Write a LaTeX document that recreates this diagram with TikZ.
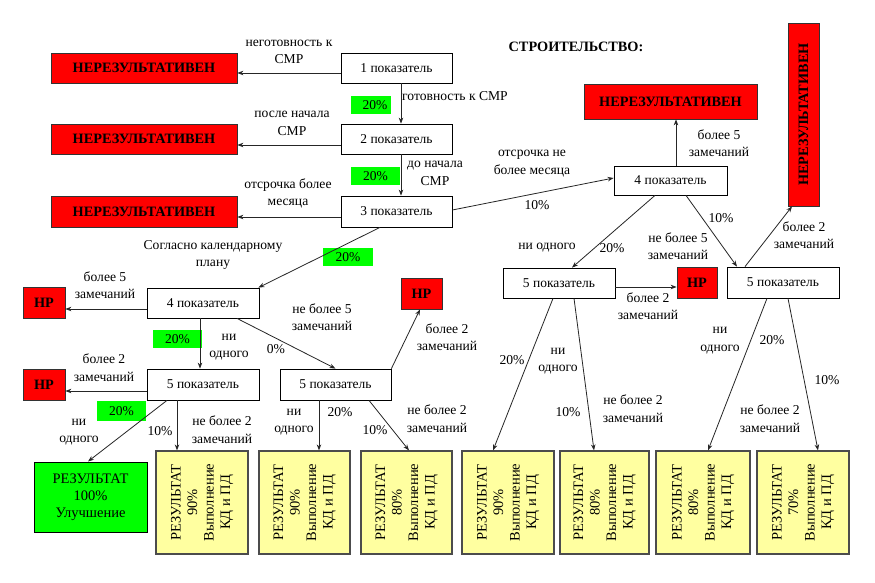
\documentclass[tikz,border=0pt]{standalone}
\usepackage{fontspec}
\setmainfont{Liberation Serif}
\usetikzlibrary{arrows.meta}
\newcommand\myfz{\fontsize{13.5}{16}\selectfont}
\newcommand\myfl{\fontsize{13.6}{17.5}\selectfont}
\newcommand\myfr{\fontsize{14.3}{16}\selectfont\bfseries}
\newcommand\myfy{\fontsize{14.5}{16.5}\selectfont}
\definecolor{nrred}{RGB}{255,0,0}
\definecolor{tagg}{RGB}{0,255,0}
\definecolor{resy}{RGB}{255,255,160}
\begin{document}
\begin{tikzpicture}[x=1pt,y=-1pt,
  wbox/.style={draw=black, line width=0.8pt, fill=white, inner sep=0pt, font=\myfz},
  rbox/.style={draw=black!80, line width=0.8pt, fill=nrred, inner sep=0pt, font=\myfr},
  gtag/.style={fill=tagg, inner sep=0pt, font=\myfz},
  ybox/.style={draw=black!70, line width=1.2pt, fill=resy, inner sep=0pt, minimum height=103pt},
  ytxt/.style={rotate=90, align=center, inner sep=0pt, font=\myfy},
  lbl/.style={align=center, inner sep=0pt, font=\myfl},
  arr/.style={draw=black!85, line width=0.8pt, -{Stealth[length=6pt,width=4.5pt]}}
]
\useasboundingbox (0,0) rectangle (875,583);
\fill[white] (0,0) rectangle (875,583);

% title
\node[font=\myfr, inner sep=0pt] (title) at (576,47) {СТРОИТЕЛЬСТВО:};

% red boxes
\node[rbox, minimum width=186pt, minimum height=30pt] (NR1) at (144,68) {НЕРЕЗУЛЬТАТИВЕН};
\node[rbox, minimum width=186pt, minimum height=30pt] (NR2) at (144,139) {НЕРЕЗУЛЬТАТИВЕН};
\node[rbox, minimum width=186pt, minimum height=31pt] (NR3) at (144,211.5) {НЕРЕЗУЛЬТАТИВЕН};
\node[rbox, minimum width=173pt, minimum height=35pt] (NR4) at (670.5,101.5) {НЕРЕЗУЛЬТАТИВЕН};
\node[rbox, rotate=90, minimum width=183pt, minimum height=31pt] (NR5) at (803.5,114.5) {НЕРЕЗУЛЬТАТИВЕН};
\node[rbox, minimum width=40pt, minimum height=31pt] (HPr) at (697,283) {НР};
\node[rbox, minimum width=42pt, minimum height=31pt] (HPL1) at (44,303) {НР};
\node[rbox, minimum width=42pt, minimum height=31pt] (HPL2) at (44,384.5) {НР};
\node[rbox, minimum width=41pt, minimum height=31pt] (HPm) at (421.5,293.5) {НР};

% white boxes
\node[wbox, minimum width=111pt, minimum height=30pt] (P1) at (396.5,68) {1 показатель};
\node[wbox, minimum width=111pt, minimum height=30pt] (P2) at (396.5,139) {2 показатель};
\node[wbox, minimum width=111pt, minimum height=31pt] (P3) at (396.5,211.5) {3 показатель};
\node[wbox, minimum width=113pt, minimum height=29pt] (P4R) at (670.5,180.5) {4 показатель};
\node[wbox, minimum width=112pt, minimum height=30pt] (P5a) at (559,283) {5 показатель};
\node[wbox, minimum width=112pt, minimum height=31pt] (P5b) at (783,282.5) {5 показатель};
\node[wbox, minimum width=112pt, minimum height=30pt] (P4L) at (203,303) {4 показатель};
\node[wbox, minimum width=112pt, minimum height=31pt] (P5L) at (203,384.5) {5 показатель};
\node[wbox, minimum width=111pt, minimum height=31pt] (P5M) at (335.5,384.5) {5 показатель};

% green tags
\node[gtag, minimum width=40pt, minimum height=18pt] (g1) at (371,105) {\hspace*{8pt}20\%};
\node[gtag, minimum width=49pt, minimum height=18pt] (g2) at (375.5,176) {20\%};
\node[gtag, minimum width=50pt, minimum height=18pt] (g3) at (348,257) {20\%};
\node[gtag, minimum width=49pt, minimum height=18pt] (g4) at (177.5,339) {20\%};
\node[gtag, minimum width=49pt, minimum height=20pt] (g5) at (121.5,411) {20\%};

% results
\node[draw=black, line width=1pt, fill=tagg, minimum width=113pt, minimum height=70pt, align=center, inner sep=0pt, font=\fontsize{14.5}{17}\selectfont] (G) at (90.5,497) {РЕЗУЛЬТАТ\\100\%\\Улучшение};
\node[ybox, minimum width=92pt] (R1) at (202,502.5) {};
\node[ybox, minimum width=91pt] (R2) at (304.5,502.5) {};
\node[ybox, minimum width=91pt] (R3) at (406.5,502.5) {};
\node[ybox, minimum width=92pt] (R4) at (508,502.5) {};
\node[ybox, minimum width=89pt] (R5) at (604.5,502.5) {};
\node[ybox, minimum width=94pt] (R6) at (703,502.5) {};
\node[ybox, minimum width=92pt] (R7) at (803,502.5) {};
\node[ytxt] (R1t) at (R1) {РЕЗУЛЬТАТ\\90\%\\Выполнение\\КД и ПД};
\node[ytxt] (R2t) at (R2) {РЕЗУЛЬТАТ\\90\%\\Выполнение\\КД и ПД};
\node[ytxt] (R3t) at (R3) {РЕЗУЛЬТАТ\\80\%\\Выполнение\\КД и ПД};
\node[ytxt] (R4t) at (R4) {РЕЗУЛЬТАТ\\90\%\\Выполнение\\КД и ПД};
\node[ytxt] (R5t) at (R5) {РЕЗУЛЬТАТ\\80\%\\Выполнение\\КД и ПД};
\node[ytxt] (R6t) at (R6) {РЕЗУЛЬТАТ\\80\%\\Выполнение\\КД и ПД};
\node[ytxt] (R7t) at (R7) {РЕЗУЛЬТАТ\\70\%\\Выполнение\\КД и ПД};

% connectors
\draw[arr] ([yshift=-5pt]P1.west) -- ([yshift=-5pt]NR1.east);
\draw[arr] ([yshift=-6pt]P2.west) -- ([yshift=-6pt]NR2.east);
\draw[arr] ([yshift=-5.5pt]P3.west) -- ([yshift=-5.5pt]NR3.east);
\draw[arr] ([xshift=4.5pt]P1.south) -- ([xshift=4.5pt]P2.north);
\draw[arr] ([xshift=4.5pt]P2.south) -- ([xshift=4.5pt]P3.north);
\draw[arr] ([yshift=1.5pt]P3.east) -- ([yshift=2.5pt]P4R.west);
\draw[arr] ([xshift=5.5pt]P4R.north) -- ([xshift=5.5pt]NR4.south);
\draw[arr] ([xshift=-15.5pt]P4R.south) -- ([xshift=13pt]P5a.north);
\draw[arr] ([xshift=15.5pt]P4R.south) -- ([xshift=-46pt]P5b.north);
\draw[arr] ([xshift=-38pt]P5b.north) -- ([xshift=-11.5pt]NR5.west);
\draw[arr] ([yshift=-4pt]P5a.east) -- ([yshift=-4pt]HPr.west);
\draw[arr] ([xshift=-16.5pt]P3.south) -- ([xshift=-1pt]P4L.north east);
\draw[arr] ([yshift=-6pt]P4L.west) -- ([yshift=-6pt]HPL1.east);
\draw[arr] ([xshift=-3pt]P4L.south) -- ([xshift=-3pt]P5L.north);
\draw[arr] ([yshift=-6.5pt]P5L.west) -- ([yshift=-6.5pt]HPL2.east);
\draw[arr] ([xshift=34pt]P4L.south) -- (P5M.north);
\draw[arr] (P5M.north east) -- ([xshift=-1.5pt]HPm.south);
\draw[arr] ([xshift=-16.5pt]P5M.south) -- ([xshift=14.5pt]R2.north);
\draw[arr] ([xshift=33.5pt]P5M.south) -- ([xshift=2.5pt]R3.north);
\draw[arr] ([xshift=-36pt]P5L.south) -- ([xshift=-2.5pt]G.north);
\draw[arr] ([xshift=-26pt]P5L.south) -- ([xshift=-25pt]R1.north);
\draw[arr] ([xshift=-6pt]P5a.south) -- ([xshift=-15pt]R4.north);
\draw[arr] ([xshift=15pt]P5a.south) -- ([xshift=-10.5pt]R5.north);
\draw[arr] ([xshift=-16pt]P5b.south) -- ([xshift=5pt]R6.north);
\draw[arr] ([xshift=5pt]P5b.south) -- ([xshift=15pt]R7.north);

% labels
\node[lbl] (L1) at (289,52) {неготовность к\\СМР};
\node[lbl] (L2) at (455,96) {готовность к СМР};
\node[lbl] (L3) at (292,123.5) {после начала\\СМР};
\node[lbl] (L4) at (435,173.5) {до начала\\СМР};
\node[lbl] (L5) at (288,193.5) {отсрочка более\\месяца};
\node[lbl] (L6) at (719,143) {более 5\\замечаний};
\node[lbl] (L7) at (532,163.5) {отсрочка не\\более месяца};
\node[lbl] (L8) at (537,205) {10\%};
\node[lbl] (L9) at (547,248) {ни одного};
\node[lbl] (L10) at (612,248) {20\%};
\node[lbl] (L11) at (721,218) {10\%};
\node[lbl] (L12) at (678,246) {не более 5\\замечаний};
\node[lbl] (L13) at (804,235) {более 2\\замечаний};
\node[lbl] (L14) at (648,306) {более 2\\замечаний};
\node[lbl] (L15) at (213,255) {Согласно календарному\\плану};
\node[lbl] (L16) at (105,285) {более 5\\замечаний};
\node[lbl] (L17) at (229,347) {ни\\одного};
\node[lbl] (L18) at (276,349) {0\%};
\node[lbl] (L19) at (104,367.5) {более 2\\замечаний};
\node[lbl] (L20) at (322,317) {не более 5\\замечаний};
\node[lbl] (L21) at (447,337) {более 2\\замечаний};
\node[lbl] (L22) at (294,422) {ни\\одного};
\node[lbl] (L23) at (340,412) {20\%};
\node[lbl] (L24) at (375,430) {10\%};
\node[lbl] (L25) at (437,418.5) {не более 2\\замечаний};
\node[lbl] (L26) at (79,432) {ни\\одного};
\node[lbl] (L27) at (160,431) {10\%};
\node[lbl] (L28) at (222,429.5) {не более 2\\замечаний};
\node[lbl] (L29) at (512,360) {20\%};
\node[lbl] (L30) at (558,361) {ни\\одного};
\node[lbl] (L31) at (568,412) {10\%};
\node[lbl] (L32) at (633,408.5) {не более 2\\замечаний};
\node[lbl] (L33) at (720,340.5) {ни\\одного};
\node[lbl] (L34) at (772,340) {20\%};
\node[lbl] (L35) at (827,380) {10\%};
\node[lbl] (L36) at (770,418.5) {не более 2\\замечаний};
\end{tikzpicture}
\end{document}
